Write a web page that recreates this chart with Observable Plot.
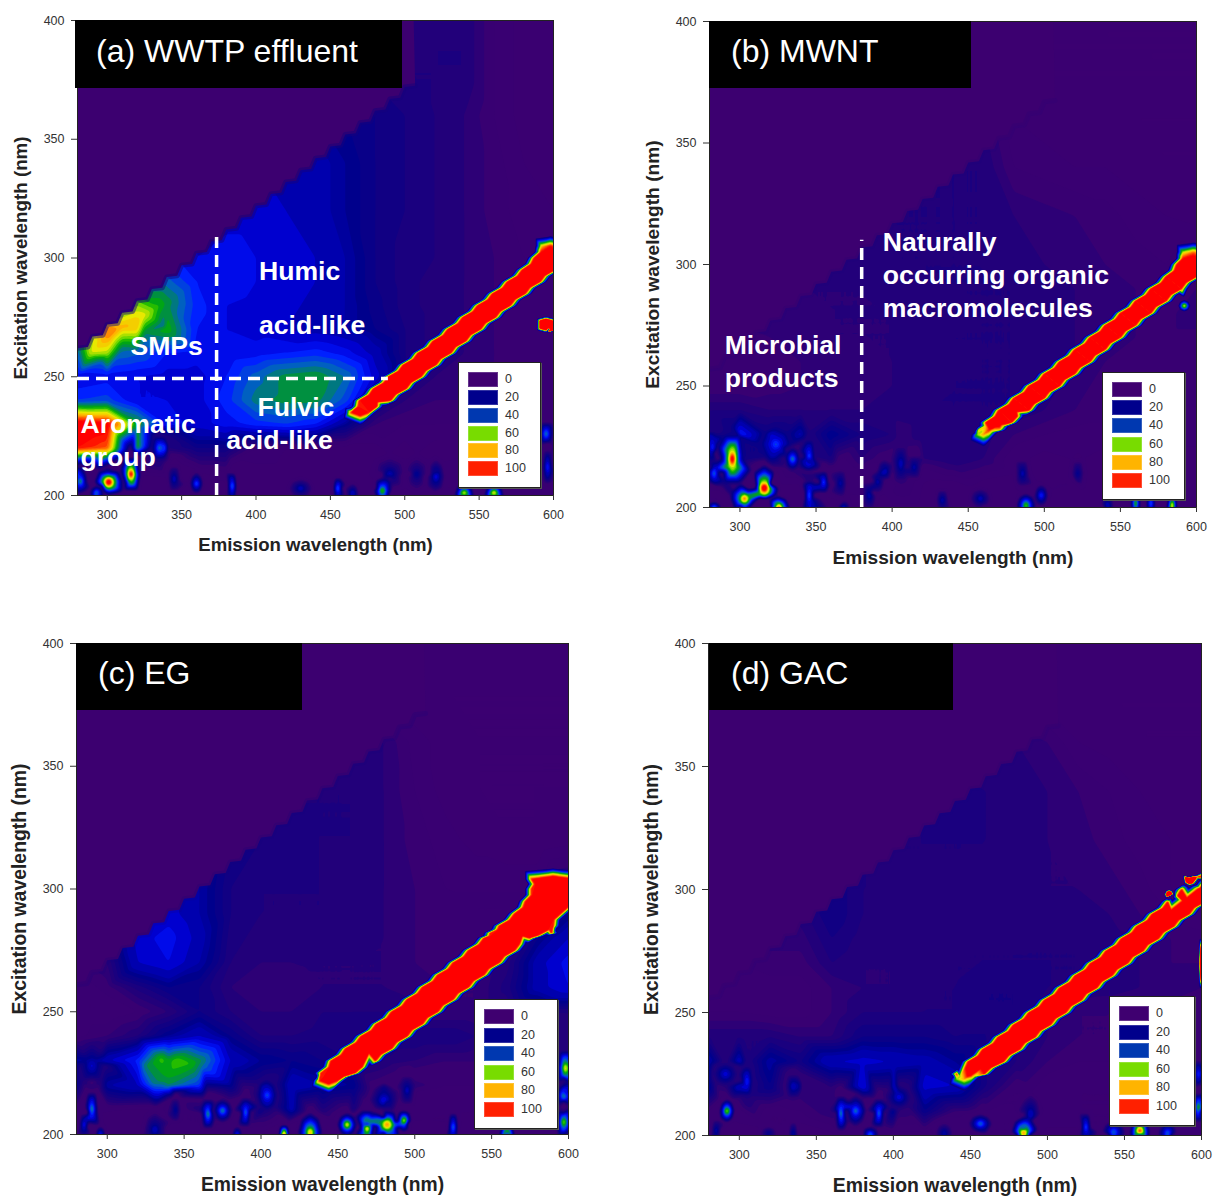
<!DOCTYPE html>
<html><head><meta charset="utf-8">
<style>
html,body{margin:0;padding:0;background:#fff;overflow:hidden}
#page{position:relative;width:1215px;height:1197px;font-family:"Liberation Sans",Arial,sans-serif}
#page svg{position:absolute;overflow:visible}
.banner{position:absolute;background:#000;color:#fff;font-size:32px;white-space:nowrap}
.legend{position:absolute;background:#fff;border:1px solid #222;box-sizing:border-box;box-shadow:1px 1px 0 #555}
.legend i{position:absolute;width:30px;height:15px;left:9px;box-shadow:inset 0 0 0 1px rgba(255,255,255,.2)}
.legend b{position:absolute;left:46px;font-weight:normal;font-size:12.5px;line-height:15px;color:#333}
</style>
<script src="https://cdn.jsdelivr.net/npm/d3@7"></script>
<script src="https://cdn.jsdelivr.net/npm/@observablehq/plot@0.6"></script>
</head><body><div id="page"></div>
<script>
const emCols=[280,300,320,340,360,380,400,420,440,460,480,500,520,540,560,580,600];
const exRows=[400,380,360,340,320,300,290,280,270,260,250,240,230,220,210,200];
const xTicks=[300,350,400,450,500,550,600], yTicks=[200,250,300,350,400];
const stopV=[0,8,12,20,30,36,44,52,58,64,72,80,90,98];
const stopC=["#3c0070","#380072","#22007a","#00008c","#0000e0","#0020ff","#0060c0","#009040","#00b000","#70d800","#e8e800","#ffb400","#ff5000","#ff0000"];
const legendColors=["#3f0070","#00008c","#0038b0","#78dc00","#ffb400","#ff2000"];
const legendLabels=["0","20","40","60","80","100"];
const stepEm=[280,290,300,310,320,330,340,350,360,370,380,390,400,410,420,430,440,450,460,470,480,490,500];
const stepEx=[262,267,272,277,282,287,292,297,302,307,312,317,322,327,332,337,342,347,352,357,362,367,372];

const gridA=[
[5,5,5,5,5,5,5,5,5,6,10,12,14,14,8,5,5],
[5,5,5,5,5,5,5,5,5,14,15,14,14,14,8,5,5],
[22,22,22,22,22,22,22,22,22,20,18,16,14,12,8,5,5],
[28,28,28,28,28,28,28,26,26,22,18,16,14,12,9,6,5],
[30,30,30,32,32,30,30,28,26,22,18,16,14,12,9,7,6],
[34,36,38,38,32,34,32,30,28,24,18,15,14,12,10,8,8],
[36,40,46,46,36,34,32,30,28,24,18,15,13,12,10,8,8],
[36,55,68,54,38,32,31,29,27,24,19,15,13,12,10,8,8],
[55,88,78,60,36,32,30,28,26,24,20,16,13,12,10,8,8],
[45,70,45,36,34,32,34,36,38,34,26,16,13,12,10,9,8],
[32,34,32,30,30,36,46,54,56,48,30,16,12,11,10,9,8],
[40,42,32,32,30,38,50,54,54,42,20,12,10,10,10,9,8],
[110,105,58,35,30,34,38,40,36,22,10,8,8,8,8,8,8],
[100,92,58,45,18,18,8,6,6,5,5,5,5,5,5,6,14],
[40,24,32,6,10,8,5,5,5,5,8,8,8,8,5,5,12],
[6,5,5,5,5,5,5,5,5,5,5,5,5,5,5,5,5]];
const gridB=[
[4,4,4,4,4,4,4,4,4,4,4,4,4,4,4,4,4],
[4,4,4,4,4,4,4,4,4,4,4,4,4,4,4,4,4],
[12,12,12,12,12,12,12,12,12,12,6,5,4,4,4,4,4],
[14,14,14,14,14,14,14,14,14,14,8,7,6,6,5,4,4],
[14,14,14,14,14,14,14,14,14,14,12,11,10,9,7,6,5],
[12,12,12,12,13,13,14,14,14,14,13,12,11,10,9,8,10],
[12,12,12,12,12,12,13,14,14,14,14,13,12,11,10,9,10],
[11,11,11,11,12,12,12,13,14,14,14,13,12,11,10,9,12],
[9,9,10,11,12,12,12,13,14,14,14,13,12,11,10,9,9],
[8,8,9,10,11,11,12,13,14,14,14,13,12,10,9,9,9],
[8,8,9,10,11,11,12,13,14,14,14,13,11,9,8,8,8],
[14,14,12,12,12,12,13,14,14,14,14,12,10,9,8,8,8],
[26,38,30,26,22,16,14,14,13,13,10,8,7,7,7,7,7],
[22,30,22,22,16,12,10,12,14,12,6,5,5,5,5,5,5],
[8,10,6,6,8,8,6,6,5,5,5,5,5,5,5,5,5],
[8,5,5,5,5,5,5,5,5,5,5,5,5,5,5,5,5]];
const gridC=[
[4,4,4,4,4,4,4,4,4,4,4,4,4,4,4,4,4],
[4,4,4,4,4,4,4,4,4,4,4,4,4,4,4,4,4],
[13,13,13,13,13,13,13,13,13,13,12,7,5,4,4,4,4],
[20,20,20,20,20,16,14,14,14,14,12,8,5,4,4,4,4],
[24,24,24,24,22,18,16,14,14,14,12,9,7,5,4,4,5],
[26,26,26,26,24,16,14,14,14,13,12,10,8,8,8,8,14],
[28,28,28,30,24,16,14,14,14,13,12,10,9,8,8,10,20],
[8,16,30,34,26,15,13,13,13,13,12,10,9,8,10,20,28],
[6,12,28,32,24,14,12,12,12,12,12,10,9,9,13,26,34],
[6,9,15,20,18,12,10,11,12,12,12,11,10,10,15,26,32],
[6,6,8,12,18,14,12,12,14,14,14,12,10,10,12,14,14],
[7,10,14,22,28,20,14,14,15,16,16,16,16,14,12,12,14],
[24,28,38,58,54,28,22,20,18,16,14,12,10,10,10,14,30],
[20,24,28,52,40,22,22,28,24,22,18,12,8,8,8,8,26],
[8,6,5,10,14,18,20,26,14,16,10,8,6,6,6,6,20],
[5,5,5,5,5,5,5,5,5,5,5,5,5,5,5,5,5]];
const gridD=[
[4,4,4,4,4,4,4,4,4,4,4,4,4,4,4,4,4],
[4,4,4,4,4,4,4,4,4,4,4,4,4,4,4,4,4],
[12,12,12,12,12,12,12,12,12,12,12,10,6,5,4,4,4],
[14,14,14,14,14,14,14,14,15,14,13,12,10,8,6,5,5],
[11,12,13,13,16,14,14,14,14,14,13,12,11,9,7,6,5],
[10,11,12,13,18,14,14,14,14,14,13,12,12,11,9,6,5],
[9,11,12,13,18,14,13,13,13,14,14,14,13,12,10,8,6],
[8,10,11,11,16,13,13,13,13,14,14,14,14,13,12,10,9],
[7,8,9,9,14,12,12,13,14,14,14,14,14,13,12,10,10],
[6,6,7,7,10,12,12,14,14,16,16,14,14,13,12,11,10],
[8,8,7,7,10,14,14,14,14,16,16,12,10,10,9,9,9],
[14,14,14,12,12,18,18,18,16,16,14,12,10,10,9,9,9],
[26,28,24,18,28,30,28,26,22,16,14,10,8,8,8,8,8],
[24,30,20,24,12,34,30,30,28,16,8,6,6,6,6,6,6],
[8,7,6,8,12,26,24,20,10,8,8,8,6,6,6,6,6],
[5,5,5,5,5,5,5,5,5,5,5,5,5,5,5,5,5]];

// extra single readings [em, ex, value]
const pointsA=[[289,260,72],[296,264,80],[302,268,88],[310,271,82],[318,274,78],[325,276,74],[333,279,62],[340,281,55],[296,256,45],[310,262,50],[325,268,52],[338,272,48]];
const pointsC=[[325,228,52],[335,231,62],[345,230,64],[355,229,60],[362,228,48],[338,222,55],[330,221,50],[335,218,38]];
// [em, ex, peak, half-width em, half-height ex, rim value]
const blobsA=[[301,205.6,130,6,4,6],[316,209,125,4,6,6],[282,206,68,3,4,6],[293,201,72,3,2,6],[335,220,58,3,4,14],[360,205,56,3,3,5],[384,204,62,2,5,5],[345,207,34,3,5,5],[430,203,32,6,3,5],[455,203,62,2,4,5],[465,201,38,3,3,5],[485,202,78,4,4,6],[490,209,28,8,5,6],[508,209,26,5,5,6],[521,208,38,4,5,6],[540,200.6,105,4,3,6],[560,200.6,110,4,3,6],[595,226,62,3,4,8],[596,212,50,2,6,8]];
const blobsB=[[295,220,125,4,8,18],[283,214,56,3,5,6],[282,225,46,2,5,14],[316,208,130,6,6,5],[303,203.6,105,6,4,5],[325,200,120,5,3,5],[283,200,68,3,1.5,6],[334.6,220,64,3,3,10],[323.6,226,46,6,4,18],[345.5,220.7,54,2,6,14],[345.5,205,56,2,8,6],[355,210.4,56,2,4,6],[366,210,30,3,5,6],[368,200,38,3,2,6],[385,205,32,3,5,6],[390.4,211,34,3,4,6],[395,215,38,3,3,8],[405.7,218,32,3,6,10],[414.5,216.6,30,3,4,8],[433,203,32,3,4,5],[458,203.7,32,5,3,5],[485.7,214,32,3,5,6],[488,201,80,4,3,6],[498,205,50,3,3,6],[522,214,26,3,5,6],[541.5,201,38,3,3,5],[560,201.7,88,2,4,5],[570,201.7,62,2,4,5],[584,201,110,2,4,5]];
const blobsC=[[290,210.4,66,2.5,6,6],[285,204,46,2,4,6],[295.6,200.3,50,2,2,6],[331,202,32,5,5,6],[344.4,210,30,2,4,8],[365.5,208.4,68,2.5,5,8],[375,209.7,62,4,3,8],[390,209,62,2,5,8],[384.5,200.2,50,2,2,6],[404,216,50,4,4,14],[415,200.2,125,2,3,5],[432,201,95,5,5,6],[290,228,32,5,5,14],[456,204,95,4,3,6],[469,203,105,3,6,6],[482,204,98,8,5,6],[493,205.7,95,3,3,6],[525,203,62,2,5,6],[560,200,125,3,3,6],[480,214,38,6,4,8],[495,218,32,3,5,8],[598,227,95,3,6,12],[597,216,68,3,4,10],[597,205,85,3,5,8]];
const blobsD=[[292,210,92,3,3,6],[305,222,48,2,5,14],[291,225,36,5,3,12],[335,220,34,3,4,10],[285,202,34,2,4,6],[366,209,68,2,6,8],[375.5,210,58,4,4,8],[390.6,209,62,2,5,8],[385,200.6,56,4,2,6],[403.6,215.6,36,5,3,12],[335,201,32,2,4,6],[433,201,30,4,3,6],[319,201,26,4,2,6],[456.5,204.8,58,5,2.5,6],[484.6,201.4,105,5,4,6],[489,208.8,34,4,5,8],[525,203.4,56,2,5,6],[543,201.4,56,5,3,6],[560,201.4,125,4,5,6],[578,201,56,4,3,6],[598,211.5,82,2,5,8],[598,225,50,2,5,8]];

// [em, ex, half-width em, peak]
const ridgeA=[[470,235,6,130],[480,240,10.5,130],[490,245,11,130],[500,250,11,130],[510,255,11,130],[520,260,11,130],[530,265,11,130],[540,270,11,130],[550,275,11,130],[560,280,11,130],[570,285,11,130],[580,290,11,130],[590,295,11,130],[597,300,10,130],[598,305,6,100]];
const ridgeB=[[460,230,4,85],[464,232,7,100],[470,235,8.5,130],[480,240,10,130],[490,245,10,130],[500,250,10,130],[510,255,10,130],[520,260,10,130],[530,265,10,130],[540,270,10,130],[550,275,10,130],[560,280,10,130],[570,285,10,130],[580,290,10,130],[590,295,10,130],[597,300,10,130],[598,305,7,90]];
const ridgeC=[[444,222,6,130],[450,225,11,130],[460,230,14.5,130],[470,235,15,130],[480,240,15,130],[490,245,15,130],[500,250,15,130],[510,255,15,130],[520,260,15,130],[530,265,15,130],[540,270,15,130],[550,275,15,130],[560,280,15,130],[569,282,20,130],[572.5,285,17.5,130],[580,290,15,130],[590,295,18,130],[590,300,14,130],[590,304,14,130]];
const ridgeD=[[446,223,5,85],[450,225,9,115],[460,230,11.5,130],[470,235,12,130],[480,240,12,130],[490,245,12,130],[500,250,12,130],[510,255,12,130],[520,260,12,130],[530,265,12,130],[540,270,12,130],[550,275,12,130],[560,280,12,130],[570,285,12,130],[580,290,12,130],[590,295,12,130],[600,300,13,130],[610,305,13,130]];
const extraA=[[595,272,300,9,3.5,0],[599,270,300,1.5,11,0]];
const extraB=[[592,283,76,5,3,0]];
const extraC=[];
const extraD=[[579,298,300,3,2,0],[592,304,300,6,2.5,0],[600,270,300,1.5,15,0]];

const notesA=[["SMPs",315.6,262.7],["Humic",402,294.3],["acid-like",402,271.6],["Fulvic",401,237],["acid-like",380,223],["Aromatic",282,229.9],["group",282,216]];
const notesB=[["Microbial",290,266.7],["products",290,253],["Naturally",393.9,309],["occurring organic",393.9,295.5],["macromolecules",393.9,281.9]];
const vDashA=[[373.5,200,308.6]], hDashA=[[249.3,280,489]];
const vDashB=[[380,200,310]], hDashB=[];

const panels=[
 {id:"a",grid:gridA,points:pointsA,blobs:blobsA,ridge:ridgeA,extra:extraA,notes:notesA,v:vDashA,h:hDashA,box:[77,553,20,495],edge:0,halo:.5,xl:18.6,yl:18.8,
  title:"(a) WWTP effluent",ban:[75,20,327,68,21],leg:[458,362,83,126]},
 {id:"b",grid:gridB,points:[],blobs:blobsB,ridge:ridgeB,extra:extraB,notes:notesB,v:vDashB,h:hDashB,box:[709,1196,21,507],edge:-5,halo:.1,xl:19.1,yl:19.2,
  title:"(b) MWNT",ban:[709,21,262,67,22],leg:[1102,372,83,128]},
 {id:"c",grid:gridC,points:pointsC,blobs:blobsC,ridge:ridgeC,extra:extraC,notes:[],v:[],h:[],box:[76,568,643,1134],edge:-1,halo:.2,xl:19.3,yl:19.4,
  title:"(c) EG",ban:[76,643,226,67,22],leg:[474,999,84,130]},
 {id:"d",grid:gridD,points:[],blobs:blobsD,ridge:ridgeD,extra:extraD,notes:[],v:[],h:[],box:[708,1201,643,1135],edge:-6,halo:.1,xl:19.4,yl:19.4,
  title:"(d) GAC",ban:[709,643,244,67,22],leg:[1109,996,86,130]}
];
const rose=[[1,0],[-1,0],[0,1],[0,-1],[.7,.7],[-.7,.7],[.7,-.7],[-.7,-.7]];
function ring(b,out,k,inner){
  const [em,ex,p,rx,ry,s]=b;
  out.push({em,ex,v:p});
  for(const [a,c] of rose){
    out.push({em:em+a*rx*k,ex:ex+c*ry*k,v:s});
    if(inner) out.push({em:em+a*rx*.55,ex:ex+c*ry*.55,v:s+.5*(p-s)});
  }
}
function fieldOf(p){
  const out=[];
  p.grid.forEach((r,i)=>r.forEach((v,j)=>out.push({em:emCols[j],ex:exRows[i],v})));
  p.points.forEach(([em,ex,v])=>out.push({em,ex,v}));
  p.blobs.forEach(b=>ring(b,out,1.7,true));
  return out;
}
function ridgeOf(p){
  const out=[{em:280,ex:200,v:0},{em:600,ex:200,v:0},{em:280,ex:400,v:0},{em:620,ex:400,v:0},{em:620,ex:200,v:0}];
  const rows=p.ridge, [e0,x0,w0]=rows[0], [e9,x9,w9]=rows[rows.length-1];
  out.push({em:e0-w0-6,ex:x0-3,v:0},{em:e0,ex:x0-6,v:0},{em:e0-w0-5,ex:x0+2,v:0});
  out.push({em:e9-w9-5,ex:x9+4,v:0},{em:e9,ex:x9+5,v:0},{em:e9+w9+5,ex:x9+4,v:0});
  rows.forEach((r,i)=>{
    const [em,ex,w,pk]=r, rim=pk>100?99:pk*.8;
    out.push({em,ex,v:pk},{em:em-w,ex,v:rim},{em:em+w,ex,v:rim},{em:em-w-5,ex,v:0},{em:em+w+5,ex,v:0});
    if(i<rows.length-1){
      const n=rows[i+1],me=(em+n[0])/2,mx=(ex+n[1])/2,mw=(w+n[2])/2-2;
      out.push({em:me-mw,ex:mx,v:rim},{em:me+mw,ex:mx,v:rim},{em:me-mw-5,ex:mx,v:0},{em:me+mw+5,ex:mx,v:0});
    }
  });
  p.extra.forEach(b=>ring(b,out,1,false));
  return out;
}
function edgeOf(p){
  const pts=[];
  stepEm.forEach((e,i)=>{const x=stepEx[i]+p.edge;pts.push({em:e,ex:x},{em:e+7,ex:x+.5});});
  return pts;
}
const levels=[...d3.range(0,24,2),...d3.range(24,101,4)];
const page=document.getElementById("page");
const ML=70,MR=40,MT=15,MB=65;
for(const p of panels){
  const [L,R,T,B]=p.box, edge=edgeOf(p);
  const mask=[{em:280,ex:400},...edge,{em:506,ex:400}];
  const chart=Plot.plot({
    width:R-L+ML+MR,height:B-T+MT+MB,marginLeft:ML,marginRight:MR,marginTop:MT,marginBottom:MB,
    x:{domain:[280,600]},y:{domain:[200,400]},
    color:{type:"linear",domain:stopV,range:stopC,clamp:true,interpolate:"rgb"},
    style:{fontFamily:'"Liberation Sans",Arial,sans-serif',fontSize:"12.5px",color:"#333",background:"transparent"},
    marks:[
      Plot.frame({fill:stopC[0],stroke:null}),
      Plot.contour(fieldOf(p),{x:"em",y:"ex",fill:"v",thresholds:levels,interpolate:"barycentric",pixelSize:1,blur:1}),
      Plot.line(mask,{x:"em",y:"ex",fill:stopC[0],stroke:null,clip:"frame"}),
      Plot.line(edge,{x:"em",y:"ex",stroke:"#16007c",strokeOpacity:p.halo,strokeWidth:5,clip:"frame"}),
      Plot.contour(ridgeOf(p),{x:"em",y:"ex",fill:"v",thresholds:d3.range(16,101,4),interpolate:"barycentric",pixelSize:1,clip:"frame"}),
      Plot.frame({stroke:"#222",strokeWidth:1}),
      Plot.ruleX(p.v,{x:d=>d[0],y1:d=>d[1],y2:d=>d[2],stroke:"#fff",strokeWidth:3.5,strokeDasharray:"12,7"}),
      Plot.ruleY(p.h,{y:d=>d[0],x1:d=>d[1],x2:d=>d[2],stroke:"#fff",strokeWidth:3.5,strokeDasharray:"12,7"}),
      Plot.text(p.notes,{x:d=>d[1],y:d=>d[2],text:d=>d[0],textAnchor:"start",fill:"#fff",fontWeight:"bold",fontSize:26.6}),
      Plot.axisX({ticks:xTicks,tickFormat:d3.format("d"),label:null,tickSize:5,tickPadding:10,fontSize:12.5}),
      Plot.axisY({ticks:yTicks,tickFormat:d3.format("d"),label:null,tickSize:6,tickPadding:7,fontSize:12.5}),
      Plot.text(["Emission wavelength (nm)"],{frameAnchor:"bottom",lineAnchor:"middle",dy:50,fontWeight:"bold",fontSize:p.xl,fill:"#222"}),
      Plot.text(["Excitation wavelength (nm)"],{frameAnchor:"left",textAnchor:"middle",rotate:-90,dx:-57,lineAnchor:"middle",fontWeight:"bold",fontSize:p.yl,fill:"#222"})
    ]
  });
  chart.style.left=(L-ML)+"px";chart.style.top=(T-MT)+"px";
  page.appendChild(chart);

  const [bx,by,bw,bh,pad]=p.ban, ban=document.createElement("div");
  ban.className="banner";
  Object.assign(ban.style,{left:bx+"px",top:by+"px",width:bw+"px",height:bh+"px",lineHeight:(bh-6)+"px",paddingLeft:pad+"px",boxSizing:"border-box"});
  ban.textContent=p.title;page.appendChild(ban);

  const [lx,ly,lw,lh]=p.leg, leg=document.createElement("div");
  leg.className="legend";
  Object.assign(leg.style,{left:lx+"px",top:ly+"px",width:lw+"px",height:lh+"px"});
  const pitch=(lh-19)/legendLabels.length;
  legendLabels.forEach((t,i)=>{
    const s=document.createElement("i"),b=document.createElement("b");
    s.style.background=legendColors[i];s.style.top=(9+i*pitch)+"px";
    b.textContent=t;b.style.top=(9+i*pitch)+"px";
    leg.append(s,b);
  });
  page.appendChild(leg);
}
</script></body></html>
